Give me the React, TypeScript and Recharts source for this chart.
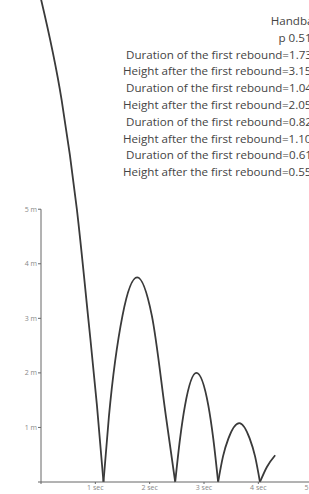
import { Line, LineChart, ReferenceLine, XAxis, YAxis } from "recharts"

// time (s) / height (m), one pair of arrays per flight
const dropTime = [0, 0.38, 0.66, 0.87, 1.03, 1.15]
const dropHeight = [8.85, 7.0, 5.0, 3.0, 1.4, 0]

const bounce1Time = [1.15, 1.25, 1.5, 1.77, 2.04, 2.3, 2.47]
const bounce1Height = [0, 1.2, 3.05, 3.75, 3.05, 1.2, 0]

const bounce2Time = [2.47, 2.56, 2.65, 2.86, 3.08, 3.17, 3.26]
const bounce2Height = [0, 0.8, 1.4, 2.0, 1.4, 0.8, 0]

const bounce3Time = [3.26, 3.35, 3.45, 3.65, 3.84, 3.94, 4.03]
const bounce3Height = [0, 0.47, 0.8, 1.08, 0.8, 0.47, 0]

const bounce4Time = [4.03, 4.16, 4.31]
const bounce4Height = [0, 0.28, 0.49]

const xTicks = [0, 1, 2, 3, 4, 5]
const yTicks = [0, 1, 2, 3, 4, 5]

const titleLines = ["Handball", "p 0.51"]
const reboundLines = [
  "Duration of the first rebound=1.73",
  "Height after the first rebound=3.15",
  "Duration of the first rebound=1.04",
  "Height after the first rebound=2.05",
  "Duration of the first rebound=0.82",
  "Height after the first rebound=1.10",
  "Duration of the first rebound=0.61",
  "Height after the first rebound=0.55",
]

const toPoints = (ts: number[], hs: number[]) => ts.map((t, i) => ({ t, h: hs[i] }))

const flights = [
  toPoints(dropTime, dropHeight),
  toPoints(bounce1Time, bounce1Height),
  toPoints(bounce2Time, bounce2Height),
  toPoints(bounce3Time, bounce3Height),
  toPoints(bounce4Time, bounce4Height),
]

const textStyle = {
  fontFamily: "'Open Sans', sans-serif",
  fontSize: 11.6,
  lineHeight: "16.8px",
  color: "#444",
  whiteSpace: "nowrap" as const,
}

const tickStyle = { fontSize: 7, fill: "#888", fontFamily: "'Open Sans', sans-serif" }

export default function App() {
  return (
    <div
      style={{
        position: "fixed",
        left: 0,
        top: 0,
        width: 309,
        height: 494,
        overflow: "hidden",
        background: "#fff",
      }}
    >
      <div style={{ position: "absolute", left: 0, top: -9 }}>
        <LineChart width={367} height={511} margin={{ top: 0, right: 0, left: 0, bottom: 0 }}>
          <XAxis
            type="number"
            dataKey="t"
            domain={[0, 6]}
            ticks={xTicks}
            tickFormatter={(v) => (v === 0 ? "" : `${v} sec`)}
            tick={tickStyle}
            tickSize={2}
            tickMargin={1}
            height={20}
            stroke="#666"
          />
          <YAxis
            type="number"
            domain={[0, 9]}
            ticks={yTicks}
            width={41}
            axisLine={false}
            tickFormatter={(v) => (v === 0 ? "" : `${v} m`)}
            tick={tickStyle}
            tickSize={3}
            tickMargin={1}
            stroke="#666"
          />
          <ReferenceLine
            segment={[
              { x: 0, y: 0 },
              { x: 0, y: 5 },
            ]}
            stroke="#666"
          />
          {flights.map((pts, i) => (
            <Line
              key={i}
              data={pts}
              dataKey="h"
              type="monotone"
              stroke="#3a3a3a"
              strokeWidth={1.8}
              dot={false}
              isAnimationActive={false}
            />
          ))}
        </LineChart>
      </div>
      <div style={{ ...textStyle, position: "absolute", left: 245, top: 13, width: 100, textAlign: "center" }}>
        {titleLines.map((s) => (
          <div key={s}>{s}</div>
        ))}
      </div>
      <div style={{ ...textStyle, position: "absolute", left: 0, top: 13 + 2 * 16.8 }}>
        {reboundLines.map((s, i) => (
          <div key={i} style={{ paddingLeft: s.startsWith("Height") ? 123 : 126 }}>
            {s}
          </div>
        ))}
      </div>
    </div>
  )
}
